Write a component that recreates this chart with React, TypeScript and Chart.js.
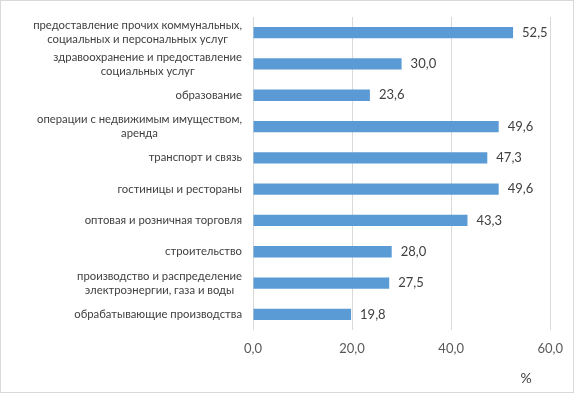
import React, { useEffect, useRef } from "react";
import { Chart, registerables } from "chart.js";

Chart.register(...registerables);

const categories: string[][] = [
  ["предоставление прочих коммунальных,", "социальных и персональных услуг"],
  ["здравоохранение и предоставление", "социальных услуг"],
  ["образование"],
  ["операции с недвижимым имуществом,", "аренда"],
  ["транспорт и связь"],
  ["гостиницы и рестораны"],
  ["оптовая и розничная торговля"],
  ["строительство"],
  ["производство и распределение", "электроэнергии, газа и воды"],
  ["обрабатывающие производства"],
];

const values: number[] = [52.5, 30.0, 23.6, 49.6, 47.3, 49.6, 43.3, 28.0, 27.5, 19.8];

const xMin = 0;
const xMax = 60;
const xStep = 20;
const unitLabel = "%";

const FONT = "Lato, 'Liberation Sans', Arial, sans-serif";
const TEXT = "#404040";

const fmt = (v: number) => v.toFixed(1).replace(".", ",");

const decorPlugin = {
  id: "decor",
  beforeDraw(chart: any) {
    const { ctx, width, height } = chart;
    ctx.save();
    ctx.fillStyle = "#ffffff";
    ctx.fillRect(0, 0, width, height);
    ctx.strokeStyle = "#d9d9d9";
    ctx.lineWidth = 1;
    ctx.strokeRect(0.5, 0.5, width - 1, height - 1);
    ctx.restore();
  },
  afterDatasetsDraw(chart: any) {
    const { ctx, chartArea } = chart;
    const yScale = chart.scales.y;
    ctx.save();
    ctx.font = `11.3px ${FONT}`;
    ctx.fillStyle = TEXT;
    ctx.textAlign = "center";
    ctx.textBaseline = "middle";
    const lineH = 14;
    (chart.data.labels as string[][]).forEach((lines, i) => {
      const yc = yScale.getPixelForValue(i);
      const maxW = Math.max(...lines.map((l) => ctx.measureText(l).width));
      const cx = chartArea.left - 11 - maxW / 2;
      const y0 = yc - ((lines.length - 1) * lineH) / 2;
      lines.forEach((l, j) => ctx.fillText(l, cx, y0 + j * lineH));
    });
    ctx.font = `13px ${FONT}`;
    ctx.textAlign = "left";
    const meta = chart.getDatasetMeta(0);
    meta.data.forEach((bar: any, i: number) => {
      ctx.fillText(fmt(values[i]), bar.x + 9, bar.y);
    });
    ctx.font = `14px ${FONT}`;
    ctx.textAlign = "center";
    ctx.fillText(unitLabel, chartArea.right - 24, 378);
    ctx.restore();
  },
};

export default function App() {
  const ref = useRef<HTMLCanvasElement>(null);
  useEffect(() => {
    if (!ref.current) return;
    const chart = new Chart(ref.current, {
      type: "bar",
      data: {
        labels: categories as any,
        datasets: [
          {
            data: values,
            backgroundColor: "#5b9bd5",
            borderWidth: 0,
            barPercentage: 0.36,
            categoryPercentage: 1,
          },
        ],
      },
      options: {
        indexAxis: "y",
        responsive: false,
        animation: false,
        layout: { padding: { top: 17, right: 21, bottom: 0, left: 0 } },
        plugins: { legend: { display: false }, tooltip: { enabled: false } },
        scales: {
          x: {
            min: xMin,
            max: xMax,
            ticks: {
              stepSize: xStep,
              padding: 11,
              color: "#595959",
              font: { family: FONT, size: 13 },
              callback: (v: any) => fmt(Number(v)),
            },
            grid: { color: "#d9d9d9", drawTicks: false },
            border: { display: false },
            afterFit: (s: any) => {
              s.height = 63;
            },
          },
          y: {
            ticks: { display: false },
            grid: { display: false },
            border: { display: false },
            afterFit: (s: any) => {
              s.width = 253;
            },
          },
        },
      },
      plugins: [decorPlugin],
    });
    return () => chart.destroy();
  }, []);
  return (
    <div style={{ position: "fixed", left: 0, top: 0, width: 574, height: 393 }}>
      <canvas ref={ref} width={574} height={393} />
    </div>
  );
}
